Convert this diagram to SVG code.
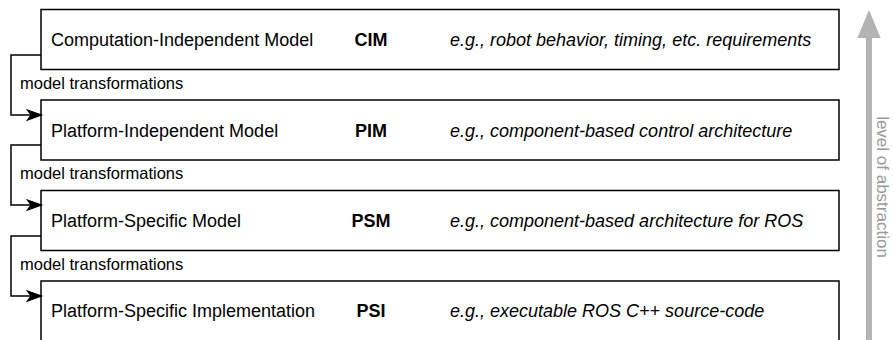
<svg xmlns="http://www.w3.org/2000/svg" width="893" height="340" viewBox="0 0 893 340">
  <style>
    .box { fill: #ffffff; stroke: #000000; stroke-width: 1.5; }
    .name { font-family: "Liberation Sans", Arial, sans-serif; font-size: 18px; fill: #000000; }
    .abbr { font-family: "Liberation Sans", Arial, sans-serif; font-size: 18px; font-weight: bold; fill: #000000; text-anchor: middle; }
    .example { font-family: "Liberation Sans", Arial, sans-serif; font-size: 18px; font-style: italic; fill: #000000; }
    .edge { fill: none; stroke: #000000; stroke-width: 1.5; }
    .edge-label { font-family: "Liberation Sans", Arial, sans-serif; font-size: 16.5px; fill: #000000; }
    .axis { font-family: "Liberation Sans", Arial, sans-serif; font-size: 17px; fill: #999999; }
  </style>
  <defs>
    <marker id="arrow" markerUnits="userSpaceOnUse" markerWidth="18" markerHeight="14" viewBox="-1 -2 16 14" refX="13.5" refY="5" orient="auto">
      <path d="M0,0 L14,5 L0,10 L3.5,5 Z" fill="#000000" stroke="#000000" stroke-width="1.2" stroke-linejoin="miter"/>
    </marker>
  </defs>

  <rect width="893" height="340" fill="#ffffff"/>

  <!-- abstraction axis -->
  <g id="abstraction-axis">
    <rect x="866" y="36" width="6" height="310" fill="#b3b3b3"/>
    <path d="M869,10 L880.7,38 L857.3,38 Z" fill="#b3b3b3"/>
    <text class="axis" transform="translate(877,187) rotate(90)" text-anchor="middle">level of abstraction</text>
  </g>

  <!-- model levels -->
  <g id="cim">
    <rect class="box" x="41" y="9.5" width="798" height="60"/>
    <text class="name" x="51" y="46">Computation-Independent Model</text>
    <text class="abbr" x="371" y="46">CIM</text>
    <text class="example" x="450" y="46">e.g., robot behavior, timing, etc. requirements</text>
  </g>
  <g id="pim">
    <rect class="box" x="41" y="100" width="798" height="60"/>
    <text class="name" x="51" y="136.5">Platform-Independent Model</text>
    <text class="abbr" x="371" y="136.5">PIM</text>
    <text class="example" x="450" y="136.5">e.g., component-based control architecture</text>
  </g>
  <g id="psm">
    <rect class="box" x="41" y="190.5" width="798" height="60"/>
    <text class="name" x="51" y="227">Platform-Specific Model</text>
    <text class="abbr" x="371" y="227">PSM</text>
    <text class="example" x="450" y="227">e.g., component-based architecture for ROS</text>
  </g>
  <g id="psi">
    <rect class="box" x="41" y="281" width="798" height="60"/>
    <text class="name" x="51" y="317">Platform-Specific Implementation</text>
    <text class="abbr" x="371" y="317">PSI</text>
    <text class="example" x="450" y="317">e.g., executable ROS C++ source-code</text>
  </g>

  <!-- transformations between levels -->
  <g id="connectors">
    <path class="edge" d="M41,55 H11 V115 H41" marker-end="url(#arrow)"/>
    <text class="edge-label" x="20" y="88.5">model transformations</text>
    <path class="edge" d="M41,145 H11 V205 H41" marker-end="url(#arrow)"/>
    <text class="edge-label" x="20" y="178.5">model transformations</text>
    <path class="edge" d="M41,236 H11 V296 H41" marker-end="url(#arrow)"/>
    <text class="edge-label" x="20" y="269.5">model transformations</text>
  </g>
</svg>
